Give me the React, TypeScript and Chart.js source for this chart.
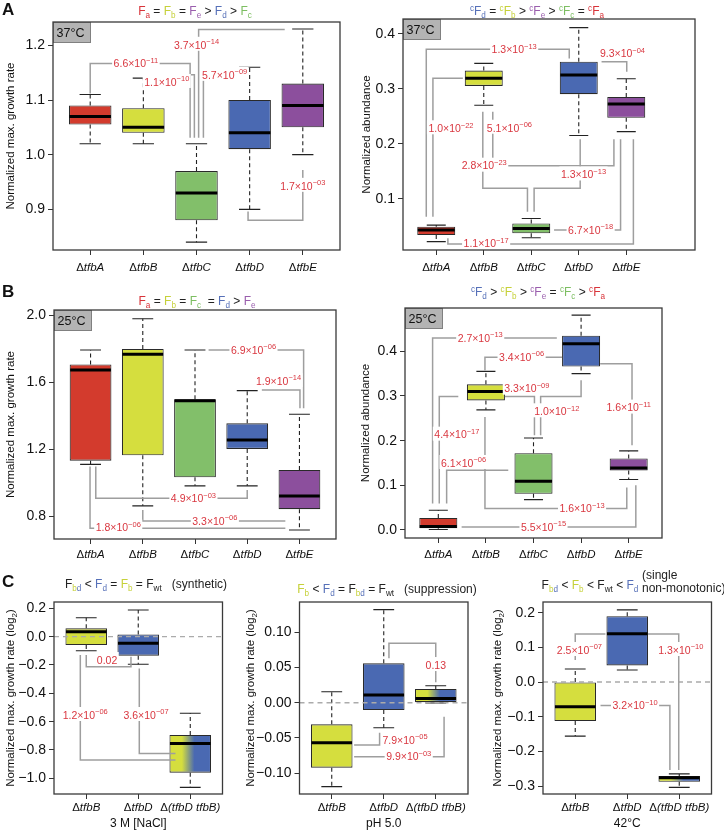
import React, { useEffect, useRef } from 'react';
import { Chart, registerables } from 'chart.js';

Chart.register(...registerables);

const FONT = '"Liberation Sans", Arial, Helvetica, sans-serif';

// ---------- colours ----------
const RED = '#D33B2D';
const YEL = '#D5DE3E';
const GRN = '#82BF6A';
const BLU = '#4A69B2';
const PUR = '#8C4F9D';
const GRAD = 'gradient';
const T_RED = '#D8343A';
const T_YEL = '#C6D13A';
const T_GRN = '#7DBE62';
const T_BLU = '#5670B8';
const T_PUR = '#9A5EAD';
const P_RED = '#D9363F';

// ---------- categories ----------
const catsKO = ['tfbA', 'tfbB', 'tfbC', 'tfbD', 'tfbE'];
const catsDouble = ['tfbB', 'tfbD', '(tfbD tfbB)'];

// ---------- five-number summaries [lower whisker, Q1, median, Q3, upper whisker] ----------
const growth37 = [
  [1.02, 1.055, 1.07, 1.09, 1.11],
  [1.02, 1.04, 1.05, 1.085, 1.14],
  [0.84, 0.88, 0.93, 0.97, 1.02],
  [0.9, 1.01, 1.04, 1.1, 1.16],
  [1.0, 1.05, 1.09, 1.13, 1.23],
];
const abund37 = [
  [0.022, 0.034, 0.043, 0.049, 0.052],
  [0.27, 0.305, 0.319, 0.333, 0.346],
  [0.029, 0.037, 0.046, 0.055, 0.064],
  [0.215, 0.29, 0.325, 0.349, 0.411],
  [0.222, 0.247, 0.272, 0.285, 0.318],
];
const growth25 = [
  [1.111, 1.133, 1.673, 1.706, 1.792],
  [0.864, 1.165, 1.766, 1.798, 1.978],
  [0.983, 1.034, 1.49, 1.498, 1.792],
  [0.983, 1.203, 1.256, 1.355, 1.55],
  [0.72, 0.844, 0.923, 1.078, 1.409],
];
const abund25 = [
  [0.001, 0.004, 0.008, 0.027, 0.044],
  [0.269, 0.29, 0.31, 0.326, 0.355],
  [0.068, 0.081, 0.109, 0.172, 0.206],
  [0.35, 0.366, 0.417, 0.435, 0.481],
  [0.113, 0.133, 0.139, 0.16, 0.177],
];
const growthNaCl = [
  [-0.099, -0.059, 0.035, 0.059, 0.134],
  [-0.195, -0.134, -0.047, 0.016, 0.188],
  [-1.064, -0.96, -0.755, -0.694, -0.541],
];
const growthPH = [
  [-0.119, -0.0922, -0.0567, -0.0307, 0.0156],
  [-0.0355, -0.0104, 0.0109, 0.0558, 0.132],
  [-0.0005, 0.0, 0.006, 0.0194, 0.024],
];
const growth42 = [
  [-0.156, -0.1125, -0.071, 0.0, 0.0375],
  [0.0346, 0.048, 0.139, 0.19, 0.208],
  [-0.304, -0.288, -0.276, -0.271, -0.265],
];

// ---------- y tick values ----------
const ticksG37 = [0.9, 1.0, 1.1, 1.2];
const ticksA37 = [0.1, 0.2, 0.3, 0.4];
const ticksG25 = [0.8, 1.2, 1.6, 2.0];
const ticksA25 = [0.0, 0.1, 0.2, 0.3, 0.4];
const ticksNaCl = [-1.0, -0.8, -0.6, -0.4, -0.2, 0.0, 0.2];
const ticksPH = [-0.1, -0.05, 0.0, 0.05, 0.1];
const ticks42 = [-0.3, -0.2, -0.1, 0.0, 0.1, 0.2];

// ---------- significance brackets (data units) ----------
type Br = { path: number[][]; p: string; at: number[] };
const brG37: Br[] = [
  { path: [[1.0, 1.112], [1.0, 1.167], [2.88, 1.167], [2.88, 1.031]], p: '6.6e-11', at: [1.86, 1.167] },
  { path: [[2.27, 1.146], [2.96, 1.146], [2.96, 1.031]], p: '1.1e-10', at: [2.44, 1.133] },
  { path: [[4.66, 1.229], [3.04, 1.229], [3.04, 1.031]], p: '3.7e-14', at: [3.0, 1.201] },
  { path: [[3.97, 1.159], [3.13, 1.159], [3.13, 1.031]], p: '5.7e-09', at: [3.53, 1.146] },
  { path: [[3.97, 0.896], [3.97, 0.88], [5.0, 0.88], [5.0, 0.972]], p: '1.7e-03', at: [5.0, 0.943] },
];
const brA37: Br[] = [
  { path: [[0.79, 0.067], [0.79, 0.3715], [3.8, 0.3715], [3.8, 0.355]], p: '1.3e-13', at: [2.64, 0.3715] },
  { path: [[0.93, 0.067], [0.93, 0.319], [1.56, 0.319]], p: '1.0e-22', at: [1.31, 0.228] },
  { path: [[1.98, 0.258], [1.98, 0.119], [2.92, 0.119], [2.92, 0.0764]], p: '2.8e-23', at: [2.01, 0.16] },
  { path: [[2.19, 0.258], [2.19, 0.16], [4.74, 0.16], [4.74, 0.208]], p: '5.1e-06', at: [2.54, 0.229] },
  { path: [[3.06, 0.0764], [3.06, 0.119], [4.03, 0.119], [4.03, 0.208]], p: '1.3e-13', at: [4.1, 0.144] },
  { path: [[3.48, 0.043], [4.88, 0.043], [4.88, 0.208]], p: '6.7e-18', at: [4.25, 0.043] },
  { path: [[1.245, 0.028], [1.245, 0.0176], [5.15, 0.0176], [5.15, 0.208]], p: '1.1e-17', at: [2.05, 0.0188] },
  { path: [[4.48, 0.349], [5.01, 0.349], [5.01, 0.331]], p: '9.3e-04', at: [4.92, 0.364] },
];
const brG25: Br[] = [
  { path: [[3.26, 1.792], [5.08, 1.792], [5.08, 1.445]], p: '6.9e-06', at: [4.12, 1.792] },
  { path: [[4.28, 1.554], [5.01, 1.554], [5.01, 1.445]], p: '1.9e-14', at: [4.6, 1.607] },
  { path: [[1.1, 1.098], [1.1, 0.909], [4.0, 0.909], [4.0, 0.959]], p: '4.9e-03', at: [2.97, 0.909] },
  { path: [[2.0, 0.84], [2.0, 0.774], [4.73, 0.774]], p: '3.3e-06', at: [3.38, 0.774] },
  { path: [[0.99, 1.098], [0.99, 0.731], [4.73, 0.731]], p: '1.8e-06', at: [1.53, 0.735] },
];
const brA25: Br[] = [
  { path: [[0.88, 0.059], [0.88, 0.43], [3.49, 0.43]], p: '2.7e-13', at: [1.88, 0.43] },
  { path: [[1.98, 0.357], [1.98, 0.387], [3.6, 0.387]], p: '3.4e-06', at: [2.75, 0.387] },
  { path: [[1.02, 0.059], [1.02, 0.299], [1.42, 0.299]], p: '4.4e-17', at: [1.39, 0.2134] },
  { path: [[2.4, 0.299], [3.02, 0.299], [3.02, 0.212]], p: '3.3e-09', at: [2.86, 0.3164] },
  { path: [[3.15, 0.212], [3.15, 0.299], [4.0, 0.299], [4.0, 0.335]], p: '1.0e-12', at: [3.49, 0.2657] },
  { path: [[4.4, 0.372], [5.07, 0.372], [5.07, 0.1896]], p: '1.6e-11', at: [5.0, 0.274] },
  { path: [[1.175, 0.059], [1.175, 0.1336], [2.47, 0.1336]], p: '6.1e-06', at: [1.53, 0.15] },
  { path: [[1.98, 0.253], [1.98, 0.0478], [4.96, 0.0478], [4.96, 0.095]], p: '1.6e-13', at: [4.02, 0.0478] },
  { path: [[1.49, 0.0067], [5.15, 0.0067], [5.15, 0.1]], p: '5.5e-15', at: [3.21, 0.0067] },
];
const brNaCl: Br[] = [
  { path: [[1.0, -0.129], [1.0, -0.212], [1.86, -0.212], [1.86, -0.141]], p: '0.02', at: [1.4, -0.165] },
  { path: [[0.886, -0.129], [0.886, -0.871], [2.716, -0.871]], p: '1.2e-06', at: [0.98, -0.553] },
  { path: [[2.02, -0.224], [2.02, -0.824], [2.716, -0.824]], p: '3.6e-07', at: [2.15, -0.553] },
];
const brPH: Br[] = [
  { path: [[2.1, 0.0629], [2.1, 0.0842], [3.0, 0.0842], [3.0, 0.029]], p: '0.13', at: [3.0, 0.0534] },
  { path: [[1.43, -0.06], [1.92, -0.06], [1.92, -0.0426]], p: '7.9e-05', at: [2.41, -0.053] },
  { path: [[1.43, -0.0766], [3.16, -0.0766], [3.16, -0.0199]], p: '9.9e-03', at: [2.48, -0.0766] },
];
const br42: Br[] = [
  { path: [[1.0, 0.0635], [1.0, 0.1385], [1.58, 0.1385]], p: '2.5e-07', at: [1.08, 0.0923] },
  { path: [[2.4, 0.1385], [2.99, 0.1385], [2.99, -0.254]], p: '1.3e-10', at: [3.03, 0.0923] },
  { path: [[1.486, -0.068], [2.82, -0.068], [2.82, -0.254]], p: '3.2e-10', at: [2.15, -0.068] },
];

// ---------- panel layout ----------
type Cfg = {
  key: string;
  plot: { l: number; t: number; r: number; b: number };
  xr: number[];
  yr: number[];
  ticks: number[];
  dec: number;
  cats: string[];
  stats: number[][];
  fills: string[];
  brackets: Br[];
  yTitle: string;
  titleOff: number;
  temp?: string;
  zero?: boolean;
  xTitle?: string;
  xLabelDy: number;
};

const panels: Cfg[] = [
  { key: 'a1', plot: { l: 53, t: 22, r: 340, b: 250 }, xr: [0.3, 5.7], yr: [0.8256, 1.2427], ticks: ticksG37, dec: 1, cats: catsKO, stats: growth37, fills: [RED, YEL, GRN, BLU, PUR], brackets: brG37, yTitle: 'Normalized max. growth rate', titleOff: 43, temp: '37°C', xLabelDy: 16.5 },
  { key: 'a2', plot: { l: 403, t: 19, r: 695, b: 250 }, xr: [0.3, 6.447], yr: [0.0067, 0.4267], ticks: ticksA37, dec: 1, cats: catsKO, stats: abund37, fills: [RED, YEL, GRN, BLU, PUR], brackets: brA37, yTitle: 'Normalized abundance', titleOff: 37, temp: '37°C', xLabelDy: 16.5 },
  { key: 'b1', plot: { l: 54, t: 310, r: 336, b: 539 }, xr: [0.3, 5.7], yr: [0.6667, 2.0298], ticks: ticksG25, dec: 1, cats: catsKO, stats: growth25, fills: [RED, YEL, GRN, BLU, PUR], brackets: brG25, yTitle: 'Normalized max. growth rate', titleOff: 44, temp: '25°C', xLabelDy: 14.5 },
  { key: 'b2', plot: { l: 405, t: 308, r: 662, b: 538 }, xr: [0.3, 5.7], yr: [-0.018, 0.497], ticks: ticksA25, dec: 1, cats: catsKO, stats: abund25, fills: [RED, YEL, GRN, BLU, PUR], brackets: brA25, yTitle: 'Normalized abundance', titleOff: 40, temp: '25°C', xLabelDy: 15.5 },
  { key: 'c1', plot: { l: 54, t: 602, r: 222.5, b: 794 }, xr: [0.38, 3.62], yr: [-1.1106, 0.2447], ticks: ticksNaCl, dec: 1, cats: catsDouble, stats: growthNaCl, fills: [YEL, BLU, GRAD], brackets: brNaCl, yTitle: 'Normalized max. growth rate (log_{2})', titleOff: 44, zero: true, xTitle: '3 M [NaCl]', xLabelDy: 13 },
  { key: 'c2', plot: { l: 299.5, t: 602, r: 468, b: 794 }, xr: [0.38, 3.62], yr: [-0.1295, 0.1428], ticks: ticksPH, dec: 2, cats: catsDouble, stats: growthPH, fills: [YEL, BLU, GRAD], brackets: brPH, yTitle: 'Normalized max. growth rate (log_{2})', titleOff: 50, zero: true, xTitle: 'pH 5.0', xLabelDy: 13 },
  { key: 'c3', plot: { l: 543, t: 602, r: 711.5, b: 794 }, xr: [0.38, 3.62], yr: [-0.323, 0.2308], ticks: ticks42, dec: 1, cats: catsDouble, stats: growth42, fills: [YEL, BLU, GRAD], brackets: br42, yTitle: 'Normalized max. growth rate (log_{2})', titleOff: 46, zero: true, xTitle: '42°C', xLabelDy: 13 },
];

// ---------- text helpers ----------
type Seg = { t: string; size: number; italic?: boolean; dy?: number; color?: string };
const segFont = (s: Seg) => `${s.italic ? 'italic ' : ''}${s.size}px ${FONT}`;
function measureRich(ctx: CanvasRenderingContext2D, segs: Seg[]) {
  let w = 0;
  for (const s of segs) {
    ctx.font = segFont(s);
    w += ctx.measureText(s.t).width;
  }
  return w;
}
function drawRich(ctx: CanvasRenderingContext2D, segs: Seg[], x: number, baseY: number, color: string) {
  ctx.textAlign = 'left';
  ctx.textBaseline = 'alphabetic';
  let cx = x;
  for (const s of segs) {
    ctx.font = segFont(s);
    ctx.fillStyle = s.color || color;
    ctx.fillText(s.t, cx, baseY + (s.dy || 0));
    cx += ctx.measureText(s.t).width;
  }
}
function pSegs(p: string): Seg[] {
  const m = /^([\d.]+)e-(\d+)$/.exec(p);
  if (!m) return [{ t: p, size: 10.5 }];
  return [
    { t: m[1] + '×10', size: 10.5 },
    { t: '−' + m[2], size: 7.5, dy: -4.5 },
  ];
}
function titleSegs(s: string, size: number): Seg[] {
  const out: Seg[] = [];
  const re = /_\{(.*?)\}/g;
  let last = 0;
  let m: RegExpExecArray | null;
  while ((m = re.exec(s))) {
    if (m.index > last) out.push({ t: s.slice(last, m.index), size });
    out.push({ t: m[1], size: size * 0.7, dy: size * 0.28 });
    last = m.index + m[0].length;
  }
  if (last < s.length) out.push({ t: s.slice(last), size });
  return out;
}
const fmtTick = (v: number, dec: number) => (Math.abs(v) < 1e-9 ? (0).toFixed(dec) : v.toFixed(dec)).replace('-', '−');

function fillFor(c: any, cfg: Cfg) {
  const f = cfg.fills[c.dataIndex];
  if (f !== GRAD) return f;
  const ch = c.chart;
  const xs = ch.scales && ch.scales.x;
  if (!ch.chartArea || !xs) return BLU;
  const cx = xs.getPixelForValue(c.dataIndex + 1);
  const hw = xs.getPixelForValue(c.dataIndex + 1.4) - cx;
  const g = ch.ctx.createLinearGradient(cx - hw, 0, cx + hw, 0);
  g.addColorStop(0, YEL);
  g.addColorStop(0.3, YEL);
  g.addColorStop(0.6, BLU);
  g.addColorStop(1, BLU);
  return g;
}

function decoPlugin(cfg: Cfg) {
  return {
    id: 'deco_' + cfg.key,
    beforeDatasetsDraw(chart: any) {
      const { ctx } = chart;
      const xs = chart.scales.x;
      const ys = chart.scales.y;
      ctx.save();
      cfg.stats.forEach((s, i) => {
        const cx = xs.getPixelForValue(i + 1);
        const half = xs.getPixelForValue(i + 1.2) - cx;
        ctx.strokeStyle = '#222';
        ctx.lineWidth = 1.1;
        ctx.setLineDash([4, 3]);
        ctx.beginPath();
        ctx.moveTo(cx, ys.getPixelForValue(s[3]));
        ctx.lineTo(cx, ys.getPixelForValue(s[4]));
        ctx.moveTo(cx, ys.getPixelForValue(s[1]));
        ctx.lineTo(cx, ys.getPixelForValue(s[0]));
        ctx.stroke();
        ctx.setLineDash([]);
        ctx.beginPath();
        for (const v of [s[0], s[4]]) {
          const py = ys.getPixelForValue(v);
          ctx.moveTo(cx - half, py);
          ctx.lineTo(cx + half, py);
        }
        ctx.stroke();
      });
      ctx.restore();
    },
    afterDatasetsDraw(chart: any) {
      const { ctx, chartArea: a } = chart;
      const xs = chart.scales.x;
      const ys = chart.scales.y;
      ctx.save();
      if (cfg.zero) {
        const zy = ys.getPixelForValue(0);
        ctx.strokeStyle = '#ababab';
        ctx.lineWidth = 1.4;
        ctx.setLineDash([5, 4]);
        ctx.beginPath();
        ctx.moveTo(a.left, zy);
        ctx.lineTo(a.right, zy);
        ctx.stroke();
        ctx.setLineDash([]);
      }
      // medians
      cfg.stats.forEach((s, i) => {
        const cx = xs.getPixelForValue(i + 1);
        const half = xs.getPixelForValue(i + 1.4) - cx;
        const py = ys.getPixelForValue(s[2]);
        ctx.strokeStyle = '#000';
        ctx.lineWidth = 3;
        ctx.beginPath();
        ctx.moveTo(cx - half + 0.5, py);
        ctx.lineTo(cx + half - 0.5, py);
        ctx.stroke();
      });
      // brackets
      ctx.strokeStyle = '#9e9e9e';
      ctx.lineWidth = 1.5;
      for (const b of cfg.brackets) {
        ctx.beginPath();
        b.path.forEach((pt, k) => {
          const px = xs.getPixelForValue(pt[0]);
          const py = ys.getPixelForValue(pt[1]);
          if (k === 0) ctx.moveTo(px, py);
          else ctx.lineTo(px, py);
        });
        ctx.stroke();
      }
      for (const b of cfg.brackets) {
        const segs = pSegs(b.p);
        const w = measureRich(ctx, segs);
        const px = xs.getPixelForValue(b.at[0]);
        const py = ys.getPixelForValue(b.at[1]);
        ctx.fillStyle = '#fff';
        ctx.fillRect(px - w / 2 - 1.5, py - 8, w + 3, 14);
        drawRich(ctx, segs, px - w / 2, py + 3.8, P_RED);
      }
      // temperature tag
      if (cfg.temp) {
        ctx.fillStyle = '#b4b4b4';
        ctx.fillRect(a.left, a.top, 37, 20);
        ctx.strokeStyle = '#808080';
        ctx.lineWidth = 1;
        ctx.strokeRect(a.left + 0.5, a.top + 0.5, 37, 20);
        drawRich(ctx, [{ t: cfg.temp, size: 12.5 }], a.left + 3.5, a.top + 15, '#111');
      }
      // frame
      ctx.strokeStyle = '#3a3a3a';
      ctx.lineWidth = 1.3;
      ctx.strokeRect(a.left, a.top, a.right - a.left, a.bottom - a.top);
      ctx.restore();
    },
    afterDraw(chart: any) {
      const { ctx, chartArea: a } = chart;
      const xs = chart.scales.x;
      ctx.save();
      // category labels: upright delta, italic gene names
      cfg.cats.forEach((c, i) => {
        const segs: Seg[] = [
          { t: 'Δ', size: 11.5 },
          { t: c, size: 11.5, italic: true },
        ];
        const w = measureRich(ctx, segs);
        const cx = xs.getPixelForValue(i + 1);
        drawRich(ctx, segs, cx - w / 2, a.bottom + cfg.xLabelDy + 4, '#111');
      });
      if (cfg.xTitle) {
        const segs: Seg[] = [{ t: cfg.xTitle, size: 12 }];
        const w = measureRich(ctx, segs);
        drawRich(ctx, segs, (a.left + a.right) / 2 - w / 2, a.bottom + 33, '#111');
      }
      // y title
      const ts = titleSegs(cfg.yTitle, 11.5);
      const tw = measureRich(ctx, ts);
      ctx.translate(a.left - cfg.titleOff, (a.top + a.bottom) / 2);
      ctx.rotate(-Math.PI / 2);
      drawRich(ctx, ts, -tw / 2, 4, '#111');
      ctx.restore();
    },
  };
}

function Panel({ cfg }: { cfg: Cfg }) {
  const ref = useRef<HTMLCanvasElement>(null);
  const cl = Math.floor(Math.max(0, cfg.plot.l - 56));
  const ct = Math.floor(cfg.plot.t - 14);
  const cr = Math.ceil(cfg.plot.r + 6);
  const cb = Math.ceil(cfg.plot.b + (cfg.xTitle ? 38 : 28));
  const w = cr - cl;
  const h = cb - ct;
  useEffect(() => {
    const canvas = ref.current;
    if (!canvas) return;
    const gridOpts = { display: true, offset: false, drawOnChartArea: false, drawTicks: true, tickLength: 5, color: '#333', lineWidth: 1 };
    const chart = new Chart(canvas, {
      type: 'bar',
      data: {
        datasets: [
          {
            data: cfg.stats.map((s, i) => ({ x: i + 1, y: [s[1], s[3]] })) as any,
            backgroundColor: (c: any) => fillFor(c, cfg),
            borderColor: '#2a2a2a',
            borderWidth: 1.1,
            borderSkipped: false,
            categoryPercentage: 0.8,
            barPercentage: 1,
          } as any,
        ],
      },
      options: {
        responsive: false,
        animation: false,
        devicePixelRatio: 1,
        events: [],
        layout: { padding: { left: 0, top: cfg.plot.t - ct, right: cr - cfg.plot.r, bottom: 0 } },
        plugins: { legend: { display: false }, tooltip: { enabled: false }, title: { display: false } },
        scales: {
          x: {
            type: 'linear',
            min: cfg.xr[0],
            max: cfg.xr[1],
            offset: false,
            bounds: 'data',
            grid: gridOpts,
            border: { display: false },
            ticks: { display: false },
            afterBuildTicks: (s: any) => {
              s.ticks = cfg.cats.map((_, i) => ({ value: i + 1 }));
            },
            afterFit: (s: any) => {
              s.height = cb - cfg.plot.b;
            },
          },
          y: {
            type: 'linear',
            min: cfg.yr[0],
            max: cfg.yr[1],
            beginAtZero: false,
            bounds: 'data',
            grid: gridOpts,
            border: { display: false },
            ticks: {
              font: { family: FONT, size: 14 },
              color: '#111',
              padding: 3,
              autoSkip: false,
              callback: (v: any) => fmtTick(Number(v), cfg.dec),
            },
            afterBuildTicks: (s: any) => {
              s.ticks = cfg.ticks.map((v) => ({ value: v }));
            },
            afterFit: (s: any) => {
              s.width = cfg.plot.l - cl;
            },
          },
        } as any,
      },
      plugins: [decoPlugin(cfg)],
    });
    return () => chart.destroy();
  }, []);
  return <canvas ref={ref} width={w} height={h} style={{ position: 'absolute', left: cl, top: ct, width: w, height: h }} />;
}

// ---------- header helpers ----------
const subStyle: React.CSSProperties = { fontSize: '0.68em', position: 'relative', top: '0.32em' };
const supStyle: React.CSSProperties = { fontSize: '0.68em', position: 'relative', top: '-0.5em' };
function F({ c, s, pre }: { c: string; s: string; pre?: boolean }) {
  return (
    <span style={{ color: c }}>
      {pre ? <span style={supStyle}>c</span> : null}F<span style={subStyle}>{s}</span>
    </span>
  );
}
function Fbd() {
  return (
    <span style={{ color: '#222' }}>
      F
      <span style={subStyle}>
        <span style={{ color: T_YEL }}>b</span>
        <span style={{ color: T_BLU }}>d</span>
      </span>
    </span>
  );
}
function Header({ x, y, children }: { x: number; y: number; children: React.ReactNode }) {
  return (
    <div style={{ position: 'absolute', left: x, top: y, transform: 'translate(-50%, -50%)', whiteSpace: 'pre', fontSize: 12, lineHeight: '14px', color: '#222' }}>
      {children}
    </div>
  );
}
function Letter({ y, children }: { y: number; children: React.ReactNode }) {
  return <div style={{ position: 'absolute', left: 2, top: y, fontSize: 17, fontWeight: 'bold', lineHeight: '17px', color: '#111' }}>{children}</div>;
}

export default function App() {
  return (
    <div style={{ position: 'absolute', left: 0, top: 0, width: 724, height: 831, background: '#fff', fontFamily: FONT, overflow: 'hidden' }}>
      {panels.map((p) => (
        <Panel key={p.key} cfg={p} />
      ))}
      <Letter y={1}>A</Letter>
      <Letter y={283}>B</Letter>
      <Letter y={573}>C</Letter>
      <Header x={195} y={12}>
        <F c={T_RED} s="a" /> = <F c={T_YEL} s="b" /> = <F c={T_PUR} s="e" /> &gt; <F c={T_BLU} s="d" /> &gt; <F c={T_GRN} s="c" />
      </Header>
      <Header x={537} y={12}>
        <F c={T_BLU} s="d" pre /> = <F c={T_YEL} s="b" pre /> &gt; <F c={T_PUR} s="e" pre /> &gt; <F c={T_GRN} s="c" pre /> = <F c={T_RED} s="a" pre />
      </Header>
      <Header x={197} y={302}>
        <F c={T_RED} s="a" /> = <F c={T_YEL} s="b" /> = <F c={T_GRN} s="c" />  = <F c={T_BLU} s="d" /> &gt; <F c={T_PUR} s="e" />
      </Header>
      <Header x={538} y={293}>
        <F c={T_BLU} s="d" pre /> &gt; <F c={T_YEL} s="b" pre /> &gt; <F c={T_PUR} s="e" pre /> = <F c={T_GRN} s="c" pre /> &gt; <F c={T_RED} s="a" pre />
      </Header>
      <Header x={146} y={585}>
        <Fbd /> &lt; <F c={T_BLU} s="d" /> = <F c={T_YEL} s="b" /> = <F c="#222" s="wt" />{'   '}(synthetic)
      </Header>
      <Header x={387} y={590}>
        <F c={T_YEL} s="b" /> &lt; <F c={T_BLU} s="d" /> = <Fbd /> = <F c="#222" s="wt" />{'   '}(suppression)
      </Header>
      <Header x={590} y={586}>
        <Fbd /> &lt; <F c={T_YEL} s="b" /> &lt; <F c="#222" s="wt" /> &lt; <F c={T_BLU} s="d" />
      </Header>
      <div style={{ position: 'absolute', left: 642, top: 569, fontSize: 12, lineHeight: '12.5px', color: '#222', whiteSpace: 'pre' }}>
        {'(single\nnon-monotonic)'}
      </div>
    </div>
  );
}
